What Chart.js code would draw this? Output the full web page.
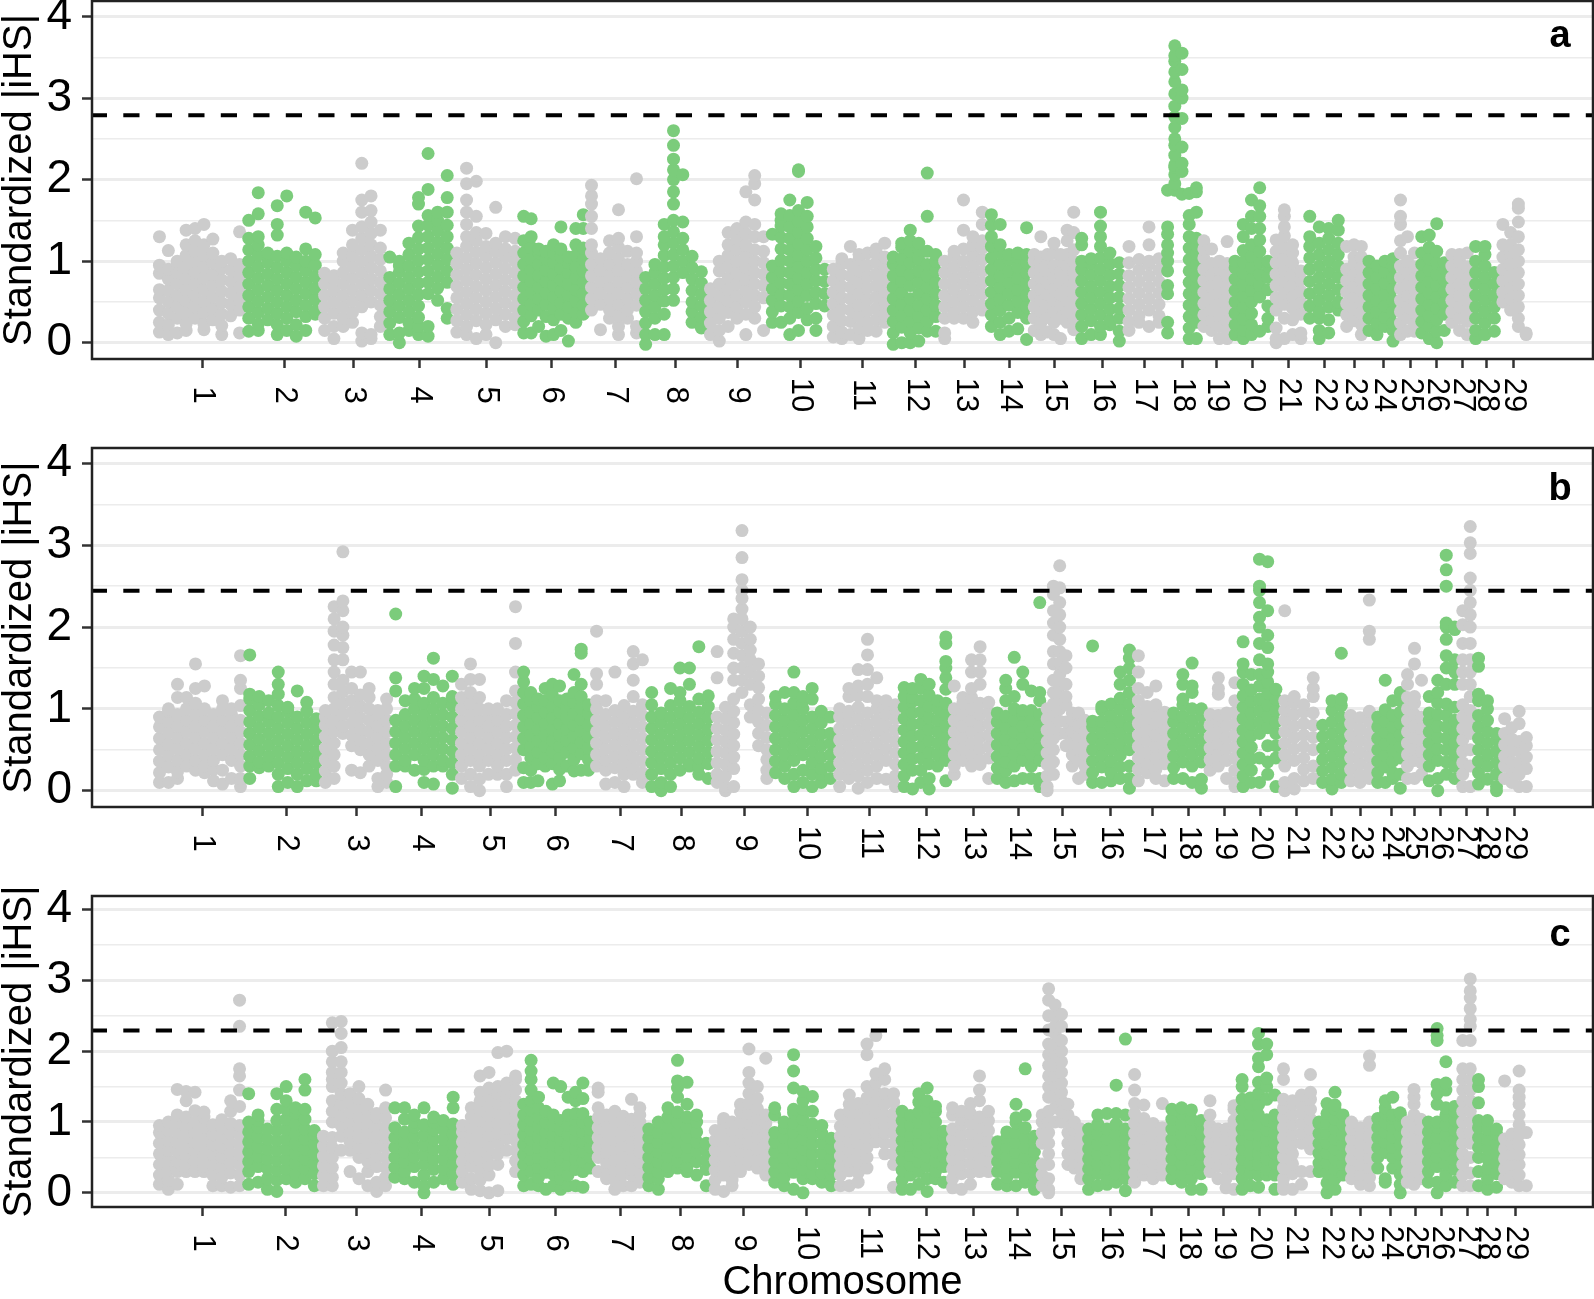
<!DOCTYPE html>
<html>
<head>
<meta charset="utf-8">
<script src="https://cdn.jsdelivr.net/npm/chart.js@4"></script>
<style>
body { margin: 0; background: #fff; }
canvas { position: absolute; left: 0; }
</style>
</head>
<body>
<canvas id="a" width="1594" height="440" style="top:0"></canvas>
<canvas id="b" width="1594" height="440" style="top:440px"></canvas>
<canvas id="c" width="1594" height="419" style="top:880px"></canvas>
<script>
const chromosomes = ["1","2","3","4","5","6","7","8","9","10","11","12","13","14","15","16","17","18","19","20","21","22","23","24","25","26","27","28","29"];
const yTicks = [0,0.5,1,1.5,2,2.5,3,3.5,4];

// chromosome boundaries and tick centres on the cumulative position axis
const edgesA = [5,94,170,235,302,370,437,491,556,618,679,739,790,837,881,927,974,1014,1050,1081,1122,1155,1193,1215,1247,1268,1298,1321,1349,1380];
const edgesB = [5,95,171,241,307,370,442,497,563,621,685,750,800,843,894,938,984,1019,1056,1089,1130,1168,1196,1224,1254,1275,1309,1324,1351,1380];
const edgesC = [5,94,169,240,308,370,444,494,561,620,686,748,798,843,889,934,980,1017,1056,1088,1129,1165,1197,1224,1254,1274,1309,1324,1351,1380];
const ticksA = [52,134,203,269,336,401,465,525,587,650,712,766,815,859,904,952,994,1032,1066,1102,1138,1174,1204,1233,1260,1286,1312,1336,1363];
const ticksB = [52,136,206,271,341,405,470,531,594,657,720,776,823,868,912,960,1002,1038,1074,1110,1146,1181,1210,1241,1264,1290,1316,1337,1364];
const ticksC = [52,135,206,271,339,405,470,530,593,656,719,776,823,867,911,960,1001,1038,1073,1109,1145,1181,1210,1240,1265,1291,1317,1337,1365];

const thresholds = [2.79,2.445,2.29];

// |iHS|: panel > chromosome > column along the chromosome
const panelA = [
[[.13,.25,.4,.55,.65,.85,.95,1.3],[.1,.22,.36,.5,.64,.78,.9,1.13],[.12,.3,.44,.58,.72,.86,.96,1],[.15,.23,.37,.51,.65,.79,.93,1.07,1.2,1.38],[.3,.44,.58,.72,.86,1,1.12,1.25,1.4],[.16,.23,.37,.51,.65,.79,.93,1.07,1.2,1.45],[.28,.42,.56,.7,.84,.98,1.1,1.27],[.1,.21,.35,.49,.63,.77,.91,1],[.33,.47,.61,.75,.89,1.03],[.12,.4,.54,.68,.82,.96,1.36]],
[[.14,.3,.44,.58,.72,.86,1,1.14,1.28,1.5],[.15,.23,.37,.51,.65,.79,.93,1.07,1.2,1.3,1.58,1.84],[.28,.42,.56,.7,.84,.98,1.1],[.1,.22,.36,.5,.64,.78,.92,1.06,1.32,1.45,1.68],[.15,.3,.44,.58,.72,.86,1,1.1,1.8],[.08,.22,.38,.52,.66,.8,.94,1.05],[.15,.32,.46,.6,.74,.88,1,1.15,1.6],[.35,.39,.53,.67,.81,.95,1.08,1.53]],
[[.15,.3,.44,.58,.72,.85],[.05,.2,.36,.5,.64,.78,.82],[.2,.3,.44,.58,.72,.86,1,1.1],[.25,.37,.51,.65,.79,.93,1.07,1.2,1.38],[.02,.12,.44,.58,.72,.86,1,1.14,1.28,1.42,1.6,1.75,2.2],[.05,.1,.5,.64,.78,.92,1.06,1.2,1.34,1.48,1.62,1.8],[.2,.32,.46,.6,.74,.88,1.02,1.16,1.38]],
[[.1,.24,.38,.52,.66,.8,1.05],[0,.12,.31,.45,.59,.73,.87,.94,1],[.15,.24,.38,.52,.66,.8,.94,1.08,1.22],[.1,.2,.31,.45,.59,.73,.87,1.01,1.15,1.29,1.43,1.7,1.78],[.08,.2,.6,.74,.88,1.02,1.16,1.3,1.44,1.56,1.88,2.32],[.52,.67,.81,.95,1.09,1.23,1.37,1.5,1.6],[.3,.42,.74,.88,1.02,1.16,1.3,1.44,1.6,1.78,2.05]],
[[.13,.27,.41,.55,.69,.83,.97,1.1],[.1,.2,.34,.48,.62,.76,.9,1.04,1.18,1.3,1.45,1.6,1.75,1.95,2.14],[.05,.27,.41,.55,.69,.83,.97,1.11,1.25,1.35,1.55,1.98],[.1,.22,.36,.5,.64,.78,.92,1.06,1.18,1.34],[0,.28,.42,.56,.7,.84,.98,1.12,1.22,1.66],[.2,.35,.49,.63,.77,.91,1.05,1.15,1.3],[.22,.3,.44,.58,.72,.86,1,1.12,1.28]],
[[.12,.26,.4,.54,.68,.82,.96,1.1,1.25,1.55],[.12,.33,.47,.61,.75,.89,1.03,1.17,1.3,1.52],[.2,.4,.54,.68,.82,.96,1.1,1.15],[.08,.32,.47,.61,.75,.89,1.03,1.12],[.1,.28,.42,.56,.7,.84,.98,1.1,1.2],[.15,.35,.49,.63,.77,.91,1.05,1.15,1.42],[.02,.3,.44,.58,.72,.86,.98,1.05],[.25,.37,.51,.65,.79,.93,1.07,1.2,1.4],[.35,.46,.6,.74,.88,1.02,1.16,1.4,1.57]],
[[.4,.54,.68,.82,.96,1.1,1.2,1.4,1.55,1.7,1.8,1.93],[.16,.47,.61,.75,.89,1.03],[.3,.4,.54,.68,.82,.96,1.1,1.25],[.1,.2,.33,.47,.61,.75,.89,1.03,1.17,1.28,1.63],[.3,.4,.54,.68,.82,.96,1.12],[.12,.2,.46,.6,.74,.88,1,1.1,1.3,2.01]],
[[-.02,.1,.24,.38,.52,.66,.8],[.1,.3,.44,.58,.72,.86,.96],[.1,.35,.51,.65,.79,.93,1.07,1.2,1.3,1.45],[.52,.66,.8,.94,1.08,1.22,1.36,1.5,1.7,1.85,2,2.12,2.25,2.42,2.6],[.86,1,1.14,1.28,1.48,2.06],[.25,.38,.5,.64,.78,.92,1.06],[.18,.31,.45,.59,.73,.87]],
[[.1,.24,.38,.52,.66],[.02,.15,.3,.44,.58,.72,.88,1],[.2,.37,.51,.65,.79,.93,1.07,1.2,1.35],[.3,.44,.58,.72,.86,1,1.14,1.28,1.4],[.1,.35,.5,.64,.78,.92,1.06,1.2,1.34,1.48,1.85],[.3,.44,.58,.72,.86,1,1.14,1.3,1.45,1.75,1.95,2.05],[.15,.55,.7,.84,.98,1.12,1.3]],
[[.25,.38,.52,.66,.8,.94,1.33],[.25,.45,.59,.73,.87,1.01,1.15,1.29,1.43,1.5,1.58],[.1,.3,.44,.58,.72,.86,1,1.14,1.28,1.42,1.56,1.75],[.15,.37,.51,.65,.79,.93,1.07,1.21,1.35,1.49,1.62,2.1,2.12],[.28,.42,.58,.72,.86,1,1.14,1.28,1.42,1.55,1.72],[.15,.3,.48,.62,.76,.9,1.04,1.18],[.45,.6,.75,.9]],
[[.07,.2,.34,.48,.62,.76,.9],[.05,.13,.27,.41,.55,.69,.83,.97,1.03],[.1,.26,.4,.54,.68,.82,.96,1.18],[.05,.18,.32,.46,.6,.74,.88,1.02,1.08],[.15,.25,.39,.53,.67,.81,.95,1.1],[.14,.28,.42,.56,.7,.84,.98,1.1,1.15],[.25,.35,.49,.63,.77,.91,1.05,1.22]],
[[-.02,.12,.26,.4,.54,.68,.82,.96,1.05],[0,.19,.33,.47,.61,.75,.89,1.03,1.17,1.22],[0,.12,.26,.4,.54,.7,.84,.98,1.12,1.25,1.38],[.02,.18,.32,.46,.6,.74,.88,1.02,1.14,1.22],[.14,.26,.4,.54,.68,.82,.96,1.12,1.55,2.08],[.14,.32,.46,.6,.74,.88,1,1.08]],
[[.05,.12,.3,.44,.58,.72,.86,1],[.3,.37,.51,.65,.79,.93,1.07,1.12],[.3,.44,.58,.72,.86,1,1.15,1.38,1.75],[.25,.38,.52,.66,.8,.94,1.08,1.2,1.3],[.4,.46,.6,.74,.88,1.02,1.16,1.25,1.45,1.6]],
[[.2,.34,.48,.62,.76,.9,1.04,1.18,1.3,1.44,1.57],[.1,.25,.4,.54,.68,.82,.96,1.1,1.2,1.45],[.14,.3,.46,.6,.74,.88,1.02,1.08],[.17,.37,.51,.65,.79,.93,1.05,1.1],[.04,.3,.44,.58,.72,.86,.98,1.08,1.41]],
[[.15,.3,.44,.58,.72,.86,1,1.08],[.1,.24,.38,.52,.66,.8,.94,1.05,1.3],[.13,.31,.45,.59,.73,.87,1.01,1.08],[.1,.25,.38,.52,.66,.8,.94,1.1,1.22],[.05,.3,.45,.59,.73,.87,1,1.08],[.25,.38,.52,.66,.8,.94,1.08,1.25,1.38],[.16,.3,.44,.58,.72,.86,1,1.14,1.35,1.6]],
[[.05,.2,.34,.48,.62,.76,.9,1,1.2,1.28],[.1,.27,.41,.55,.69,.83,.97,1.03],[.1,.2,.34,.48,.62,.76,.9,1.04,1.18,1.3,1.43,1.6],[.22,.27,.41,.55,.69,.83,.97,1.1],[.02,.14,.3,.42,.56,.7,.84,.98]],
[[.15,.26,.4,.54,.68,.82,.98,1.18],[.25,.33,.47,.61,.75,.89,1.02],[.2,.4,.54,.68,.82,.96,1,1.2,1.42],[.25,.33,.47,.61,.75,.89,1.03]],
[[.12,.25,.6,.7,.88,1,1.1,1.2,1.33,1.42,1.87],[1.87,1.95,2.06,2.15,2.18,2.3,2.42,2.5,2.64,2.77,2.9,3.05,3.2,3.32,3.45,3.52,3.64],[1.82,2.1,2.2,2.4,2.75,3,3.1,3.35,3.55],[.05,.18,.32,.46,.6,.74,.88,1.02,1.16,1.3,1.45,1.56,1.83],[.05,.25,.39,.53,.67,.81,.95,1.09,1.2,1.28,1.6,1.85,1.9]],
[[.2,.34,.48,.62,.76,.9,1.04,1.15,1.25],[.15,.27,.41,.55,.69,.83,.97,1.15],[.05,.2,.34,.48,.62,.76,.9,1],[.05,.15,.27,.41,.55,.69,.83,.97,1.24]],
[[.1,.22,.36,.5,.64,.78,.92,1],[.05,.15,.29,.43,.57,.71,.85,.99,1.13,1.3,1.45],[.1,.22,.36,.5,.64,.78,.92,1.06,1.2,1.4,1.55,1.75],[.14,.56,.7,.84,.98,1.12,1.26,1.4,1.55,1.68,1.9],[.2,.3,.45,.65,.8,.94,1]],
[[0,.05,.18,.4,.55,.7,.84,.98,1.12,1.26],[.05,.3,.47,.61,.75,.89,1.03,1.17,1.31,1.42,1.55,1.63],[.1,.28,.42,.56,.7,.84,.98,1.1,1.2],[.05,.12,.35,.49,.63,.77,.88]],
[[.3,.45,.6,.75,.9,1.04,1.18,1.3,1.55],[.05,.15,.3,.38,.52,.66,.8,.94,1.08,1.22,1.42],[.12,.28,.44,.58,.72,.86,1,1.14,1.28,1.4],[.4,.5,.65,.8,.94,1.08,1.22,1.38,1.5]],
[[.2,.34,.48,.62,.76,.9,1.18],[.27,.41,.55,.69,.83,.97,1.05,1.2],[.1,.22,.36,.5,.64,.78,.92,1.05,1.18]],
[[.15,.3,.44,.58,.72,.86,1],[.1,.24,.38,.52,.66,.8,.94],[.2,.31,.45,.59,.73,.87,1],[.02,.15,.24,.38,.52,.66,.8,.94,1.03]],
[[.1,.24,.38,.52,.66,.8,.94,1.1,1.25,1.45,1.55,1.75],[.14,.3,.44,.58,.72,.86,1,1.3],[.14,.23,.37,.51,.65,.79,.93,1.1]],
[[.12,.26,.4,.54,.68,.82,.96,1.1,1.3],[.05,.2,.33,.47,.61,.75,.89,1.03,1.17,1.32],[0,.14,.28,.42,.56,.7,.84,.98,1.12,1.46],[.15,.35,.49,.63,.77,.91,.98]],
[[.25,.38,.52,.66,.8,.94,1.08],[.15,.3,.44,.58,.72,.86,1,1.08],[.1,.26,.37,.51,.65,.79,.93,1.1]],
[[.05,.15,.3,.44,.58,.72,.86,1,1.18],[.1,.24,.38,.52,.66,.8,.94,1.08,1.18],[.14,.3,.44,.58,.72,.86]],
[[.5,.62,.76,.9,1.05,1.2,1.45],[.4,.54,.68,.82,.96,1.1,1.2,1.35],[.2,.3,.44,.58,.72,.86,1,1.14,1.3,1.48,1.65,1.7],[.1,.12]]
];

const panelB = [
[[.1,.22,.36,.5,.64,.78,.9],[.1,.29,.43,.57,.71,.85,.97,1],[.15,.23,.37,.51,.65,.79,.93,1.14,1.3],[.3,.44,.58,.72,.86,1,1.14],[.25,.37,.51,.65,.79,.93,1.07,1.25,1.55],[.22,.3,.44,.58,.72,.86,1,1.28],[.12,.26,.37,.51,.65,.79,.93],[.08,.25,.44,.58,.72,.86,1,1.1],[.15,.37,.51,.65,.79,.93,1],[.05,.15,.3,.44,.58,.72,.86,1.04,1.25,1.35,1.65]],
[[.15,.3,.42,.56,.7,.84,.98,1.12,1.18,1.66],[.28,.35,.49,.63,.77,.91,1.05,1.15],[.3,.42,.56,.7,.84,.95,1.1],[.05,.2,.34,.48,.62,.76,.9,1.04,1.18,1.3,1.45],[.1,.27,.41,.55,.69,.83,.97,1.02],[.05,.2,.34,.48,.62,.76,.9,1.22],[.12,.27,.41,.55,.69,.83,.97,1.08],[.12,.2,.34,.48,.62,.76,.88]],
[[.1,.24,.38,.52,.66,.8,.9,.98],[.15,.3,.44,.58,.72,.86,1,1.14,1.3,1.45,1.6,1.78,1.95,2.1,2.25],[.7,.79,.93,1.07,1.21,1.35,1.6,1.75,1.9,2,2.2,2.32,2.92],[.25,.55,.68,.82,.96,1.1,1.25,1.45],[.22,.5,.62,.75,.89,1.03,1.17,1.45],[.3,.44,.58,.72,.86,1,1.14,1.25],[.05,.15,.37,.51,.65,.79,.93,.98],[.1,.2,.3,.44,.58,.72,.86,1,1.12]],
[[.05,.3,.44,.58,.72,.86,1.22,1.38,2.16],[.3,.37,.51,.65,.79,.93,1.1],[.25,.44,.58,.72,.86,1,1.12,1.25],[.1,.26,.37,.51,.65,.79,.93,1.07,1.25,1.4],[.08,.3,.44,.58,.72,.86,1,1.14,1.36,1.62],[.3,.37,.51,.65,.79,.93,1.07,1.28],[.03,.2,.34,.48,.62,.76,.9,1.04,1.15,1.4]],
[[.15,.3,.44,.58,.72,.86,1,1.14,1.3],[.05,.2,.37,.51,.65,.79,.93,1.07,1.2,1.36,1.55],[0,.14,.3,.44,.58,.72,.86,1,1.14,1.36],[.2,.37,.51,.65,.79,.93,1],[.2,.3,.44,.58,.72,.86,1],[.05,.2,.37,.51,.65,.79,.93,1.1],[.25,.38,.52,.66,.8,.94,1.08,1.22,1.45,1.8,2.25]],
[[.1,.28,.5,.64,.78,.92,1.06,1.2,1.33,1.45],[.1,.25,.4,.54,.68,.82,.96,1.1,1.2],[.12,.33,.47,.61,.75,.89,1.03,1.12],[.3,.4,.54,.68,.82,.96,1.1,1.25],[.08,.33,.47,.61,.75,.89,1.03,1.17,1.3],[.12,.26,.4,.54,.68,.82,.96,1.1,1.28],[.3,.47,.61,.75,.89,1.03,1.12],[.24,.38,.52,.66,.8,.94,1.08,1.2,1.42],[.25,.45,.59,.73,.87,1.01,1.15,1.3,1.68,1.73],[.25,.38,.52,.66,.8,.94,1.05]],
[[.3,.44,.58,.72,.86,1,1.1,1.3,1.43,1.95],[.08,.25,.37,.51,.65,.79,.93,1.1],[.1,.28,.42,.56,.7,.84,.98,1.45],[.05,.2,.34,.48,.62,.76,.9,1.04],[.2,.27,.41,.55,.69,.83,.97,1.15,1.35,1.55,1.7],[.1,.22,.36,.5,.64,.78,.92,1.05,1.6]],
[[.05,.2,.34,.48,.62,.76,.9,1.05,1.2],[0,.1,.27,.41,.55,.69,.83,.95],[.05,.2,.34,.48,.62,.76,.9,1.04,1.25],[.25,.4,.54,.68,.82,.96,1.1,1.2,1.5],[.3,.33,.47,.61,.75,.89,1.03,1.3,1.5],[.2,.3,.4,.54,.68,.82,.96,1.12,1.76],[.15,.33,.47,.61,.75,.89,1.03,1.16]],
[[.1,.2,.34,.48,.62,.76,.9,1.38,1.7],[0,.05,.18,.32,.46,.6,.74,.88,1.02],[.05,.27,.41,.55,.69,.83,.97,1.12,1.35,1.5,1.68,1.85,2,2.1],[1.2,1.35,1.5,1.65,1.8,1.95,2.1,2.22,2.35,2.45,2.58,2.85,3.18],[.9,1.05,1.3,1.45,1.6,1.72,1.85,2],[.55,.7,.84,.98,1.12,1.26,1.4,1.55],[.15,.25,.38,.5,.65,.8,.95]],
[[.22,.36,.5,.64,.78,.92,1.06,1.15],[.15,.3,.44,.58,.72,.86,1,1.2],[.05,.2,.37,.51,.65,.79,.93,1.07,1.2,1.45],[.1,.25,.44,.58,.72,.86,1,1.1,1.15],[.05,.2,.34,.48,.62,.76,.9,1.12,1.25],[.1,.2,.27,.41,.55,.69,.83,.97],[.15,.3,.44,.58,.7,.9]],
[[.05,.2,.34,.48,.62,.76,.9,1],[.15,.27,.41,.55,.69,.83,.97,1.15,1.25],[.03,.18,.32,.46,.6,.74,.88,1.02,1.16,1.28,1.48],[.1,.25,.39,.53,.67,.81,.95,1.15,1.3,1.48,1.66,1.85],[.15,.3,.44,.58,.72,.86,1,1.1,1.38],[.14,.37,.51,.65,.79,.93,1.07,1.1],[.05,.18,.32,.46,.6,.74,.88,1,1.05]],
[[.05,.18,.32,.46,.6,.74,.88,1.02,1.15,1.26],[.02,.25,.39,.53,.67,.81,.95,1.09,1.14,1.25],[.1,.25,.4,.54,.68,.82,.96,1.1,1.25,1.36],[.02,.15,.33,.47,.61,.75,.89,1.03,1.17,1.3],[.3,.44,.58,.72,.86,1,1.1],[.12,.37,.51,.65,.79,.93,1.07,1.24,1.38,1.5,1.58,1.8,1.88]],
[[.2,.3,.44,.58,.72,.86,1,1.28],[.37,.51,.65,.79,.93,1.07,1.14],[.3,.44,.58,.72,.86,1,1.14,1.25,1.45,1.6],[.32,.37,.51,.65,.79,.93,1.07,1.3,1.45,1.6,1.76],[.15,.4,.54,.68,.82,.96,1.08]],
[[.15,.28,.42,.56,.7,.84,.95],[.1,.24,.35,.49,.63,.77,.91,1.1,1.25,1.35],[.12,.3,.44,.58,.72,.86,1,1.15,1.63],[.15,.37,.51,.65,.79,.93,.98,1.3,1.45],[.15,.3,.44,.58,.72,.86,.98,1.22],[.05,.15,.37,.51,.65,.79,.93,1.1,1.2,2.3]],
[[0,.05,.18,.32,.46,.6,.74,.88,1],[.2,.35,.5,.64,.78,.92,1.06,1.2,1.35,1.55,1.7,1.9,2.05,2.2,2.4,2.5],[.7,.85,1,1.14,1.28,1.42,1.56,1.7,1.85,2,2.15,2.3,2.48,2.75],[.55,.7,.84,1.05,1.15,1.3,1.5,1.65],[.3,.44,.58,.72,.86,.95],[.15,.37,.51,.65,.79,.93,.95],[.2,.3,.44,.58,.72,.86]],
[[.1,.22,.36,.5,.64,.78,.85,1.77],[.1,.29,.43,.57,.71,.85,.99,1.03],[.12,.22,.36,.5,.64,.78,.92,1.06],[.15,.29,.43,.57,.71,.85,.99,1.13,1.3,1.45],[.03,.15,.3,.5,.64,.78,.92,1.06,1.2,1.35,1.5,1.62,1.72]],
[[.12,.26,.4,.54,.68,.82,.96,1.1,1.25,1.45,1.65],[.22,.33,.47,.61,.75,.89,1.03,1.2],[.15,.26,.4,.54,.68,.82,.96,1.05,1.28],[.12,.33,.47,.61,.75,.89,.96]],
[[.15,.28,.42,.56,.7,.84,.95],[.15,.35,.49,.63,.77,.91,1.05,1.12,1.3,1.42],[.1,.3,.44,.58,.72,.86,1,1.2,1.28,1.56],[.03,.14,.35,.49,.63,.77,.91,1]],
[[.25,.38,.52,.66,.8,.93],[.3,.44,.58,.72,.86,.92,1.18,1.25,1.38],[.15,.37,.51,.65,.79,.93,.95],[.05,.1,.25,.4,.54,.68,.82,.96,1.1,1.32]],
[[.05,.18,.32,.46,.6,.74,.88,1.02,1.16,1.3,1.45,1.55,1.82],[.1,.25,.39,.53,.67,.81,.95,1.09,1.23,1.42],[.1,.4,.7,.84,.98,1.12,1.28,1.42,1.6,1.8,2,2.12,2.3,2.45,2.5,2.83],[.2,.35,.55,.77,.91,1.05,1.19,1.33,1.45,1.55,1.75,1.9,2.2,2.8],[.05,.4,.55,.7,.84,.98,1.12,1.24]],
[[0,.1,.3,.44,.58,.72,.86,.98,1.1,2.2],[.02,.15,.37,.51,.65,.79,.93,1.07,1.15],[.12,.26,.4,.54,.68,.82,.96,1.05],[.15,.3,.5,.65,.8,.95,1.15,1.25,1.38]],
[[.1,.24,.38,.52,.66,.8],[.02,.14,.28,.42,.56,.7,.84,.98,1.1],[.1,.2,.34,.48,.62,.76,.9,1.04,1.12,1.68]],
[[.12,.26,.4,.54,.68,.82,.92],[.1,.19,.33,.47,.61,.75,.89],[.15,.28,.42,.56,.7,.84,.97,1.85,1.95,2.33]],
[[.1,.22,.36,.5,.64,.78,.9],[.1,.29,.43,.57,.71,.85,.99,1.35],[.15,.22,.36,.5,.64,.78,.92,1.1],[.03,.2,.4,.54,.68,.82,.96,1.1,1.2]],
[[.15,.3,.44,.58,.72,.86,1,1.14,1.3,1.42],[.15,.37,.51,.65,.79,.93,1.07,1.15,1.55,1.74],[.2,.34,.48,.62,.76,.9,1.35]],
[[.12,.3,.44,.58,.72,.86,.95,1.15],[0,.15,.37,.51,.65,.79,.93,1.07,1.2,1.35],[.2,.35,.5,.64,.78,.92,1.06,1.3,1.5,1.65,1.85,2,2.05,2.5,2.7,2.88],[.15,.3,.44,.58,.72,.86,1.02,1.3,1.45,1.6,1.97,2]],
[[.05,.2,.34,.48,.62,.76,.9,1.05,1.3,1.45,1.6,1.8,2.03,2.2],[.05,.3,.5,.7,.84,.98,1.15,1.3,1.45,1.6,1.8,2,2.15,2.3,2.45,2.6,2.9,3.03,3.23]],
[[.08,.22,.36,.5,.64,.78,.92,1.1,1.18,1.52,1.62],[.14,.3,.44,.58,.72,.86,1,1.1],[0,.05,.2,.34,.48,.62,.7]],
[[.15,.3,.42,.56,.7,.88],[.1,.24,.35,.49,.63,.77],[.05,.2,.34,.48,.6,.82,.97],[.05,.27,.41,.55,.65]]
];

const panelC = [
[[.12,.25,.4,.55,.7,.85,.95],[.05,.18,.32,.46,.6,.74,.88,1],[.12,.3,.44,.58,.72,.86,1,1.1,1.46],[.3,.37,.51,.65,.79,.93,1.07,1.3,1.43],[.3,.44,.58,.72,.86,1,1.16,1.42],[.3,.37,.51,.65,.79,.93,1.07,1.14],[.1,.25,.4,.54,.68,.82,.96],[.1,.22,.36,.5,.64,.78,.92,1.03],[.08,.28,.42,.56,.7,.84,.98,1.15,1.3],[.1,.25,.4,.54,.68,.82,.95,1.22,1.45,1.65,1.75,2.35,2.72]],
[[.12,.3,.44,.58,.72,.86,1,1.4],[.15,.37,.51,.65,.79,.93,1.02,1.1],[.05,.2,.34,.48,.62,.76,.9],[.02,.18,.32,.46,.6,.74,.88,1.02,1.18,1.4],[.2,.34,.48,.62,.76,.9,1.04,1.18,1.3,1.5],[.15,.27,.41,.55,.69,.83,.97,1.12,1.2],[.2,.34,.48,.62,.76,.9,1.04,1.18,1.45,1.6],[.1,.27,.41,.55,.69,.83,.88]],
[[.1,.24,.38,.52,.66,.8],[.1,.22,.36,.5,.64,.78,1,1.15,1.3,1.5,1.6,1.7,1.85,2,2.4],[.6,.8,.95,1.1,1.25,1.4,1.55,1.7,1.85,2.05,2.25,2.42],[.3,.6,.72,.86,1,1.14,1.28,1.4],[.2,.5,.64,.78,.92,1.06,1.2,1.33,1.5],[.1,.3,.44,.58,.72,.86,1,1.14,1.25],[.02,.15,.37,.51,.65,.79,.93,1.07,1.12],[.1,.22,.36,.5,.64,.78,.92,1.06,1.2,1.45]],
[[.22,.36,.5,.64,.78,.92,1.2],[.2,.3,.44,.58,.72,.86,1.04,1.2],[.15,.37,.51,.65,.79,.93,1,1.1],[0,.1,.25,.4,.54,.68,.82,.96,1.2],[.15,.33,.47,.61,.75,.89,1,1.07],[.2,.34,.48,.62,.76,.9,1.02],[.12,.27,.41,.55,.69,.83,.97,1.2,1.35]],
[[.15,.3,.44,.58,.72,.86,.95],[.05,.2,.37,.51,.65,.79,.93,1.07,1.2],[.03,.18,.32,.46,.6,.74,.88,1.02,1.16,1.3,1.42,1.65],[0,.25,.39,.53,.67,.81,.95,1.09,1.23,1.37,1.48,1.7],[.03,.4,.55,.7,.84,.98,1.12,1.26,1.4,1.5,1.98],[.6,.77,.91,1.05,1.19,1.33,1.47,1.55,2],[.3,.45,.6,.74,.88,1.02,1.16,1.3,1.45,1.6,1.65]],
[[.1,.25,.4,.54,.68,.82,.96,1.1,1.25],[.12,.3,.47,.61,.75,.89,1.03,1.17,1.3,1.45,1.6,1.72,1.87],[.1,.22,.36,.5,.64,.78,.92,1.06,1.2,1.35],[.05,.29,.43,.57,.71,.85,.99,1.13,1.15],[.1,.26,.4,.54,.68,.82,.96,1.1,1.55],[.05,.2,.33,.47,.61,.75,.89,1.02,1.5],[.1,.25,.4,.54,.68,.82,.96,1.1,1.35],[.1,.33,.47,.61,.75,.89,1.03,1.12,1.3,1.42],[.08,.3,.44,.58,.72,.86,1,1.12,1.33,1.55],[.35,.5,.64,.78,.9,1]],
[[.3,.5,.64,.78,.92,1.06,1.2,1.42,1.48],[.2,.34,.43,.57,.71,.85,.99,1.1],[.05,.18,.32,.46,.6,.74,.88,1.02,1.15],[.1,.26,.4,.54,.68,.82,.96,1.08],[.1,.25,.33,.47,.61,.75,.89,1.04,1.32],[.15,.3,.44,.58,.72,.86,1,1.1,1.2]],
[[.1,.22,.36,.5,.64,.78,.9],[.05,.2,.29,.43,.57,.71,.85,1],[.3,.37,.51,.65,.79,.93,1.07,1.2],[.35,.44,.58,.72,.86,1,1.14,1.35,1.48,1.58,1.87],[.3,.37,.51,.65,.79,.93,1.07,1.25,1.56],[.25,.44,.58,.72,.86,1,1.1],[.1,.33,.47,.61,.7]],
[[.05,.18,.32,.46,.6,.74,.88],[.02,.25,.39,.53,.67,.81,.95,1,1.05],[.1,.18,.32,.46,.6,.74,.88,1],[.3,.44,.58,.72,.86,1,1.14,1.25],[.4,.55,.7,.84,.98,1.12,1.26,1.4,1.55,1.7,2.03],[.35,.47,.62,.77,.91,1.05,1.19,1.33,1.5],[.25,.4,.55,.7,.84,.98,1.1,1.9]],
[[.15,.3,.44,.58,.72,.85,1.1,1.2],[.1,.22,.36,.5,.64,.78,.92,1],[.05,.29,.43,.57,.71,.85,.99,1.13,1.18,1.48,1.72,1.95],[0,.2,.34,.48,.62,.76,.9,1.04,1.18,1.3,1.43],[.2,.27,.41,.55,.69,.83,.97,1.15,1.36],[.15,.28,.42,.56,.7,.84,.95],[.1,.25,.35,.49,.63,.77]],
[[.1,.25,.38,.52,.66,.8,.94,1.1],[.1,.31,.45,.59,.73,.87,1.01,1.15,1.25,1.38],[.15,.28,.42,.56,.7,.84,.98,1.12,1.26],[.35,.5,.64,.78,.92,1.06,1.2,1.34,1.5,1.95,2.1],[.72,.86,1,1.14,1.28,1.42,1.55,1.68,2.22],[.55,.7,.84,.95,1.1,1.25,1.4,1.6,1.75],[.08,.4,.55,.7,.85,1,1.12,1.28,1.4]],
[[.05,.18,.32,.46,.6,.74,.88,1.02,1.15],[.05,.25,.39,.53,.67,.81,.95,1.09],[.12,.3,.44,.58,.72,.86,1,1.14,1.28,1.4],[.02,.2,.37,.51,.65,.79,.93,1.07,1.21,1.3,1.48],[.2,.3,.44,.58,.72,.86,1,1.15,1.22],[.15,.37,.51,.65,.79,.87]],
[[.07,.2,.34,.48,.62,.76,.9,1.1,1.2],[.05,.27,.41,.55,.69,.83,.97,1.04,1.15],[.12,.28,.42,.56,.7,.84,.98,1.12,1.26],[.3,.37,.51,.65,.79,.93,1.07,1.3,1.45,1.65],[.3,.45,.6,.74,.88,1.02,1.15]],
[[.12,.3,.44,.58,.72],[.1,.22,.36,.5,.64,.78,.86],[.1,.29,.43,.57,.71,.85,.99,1.06,1.25],[.15,.22,.36,.5,.64,.78,.92,1.1,1.75],[.05,.15,.3,.44,.58,.72,.8]],
[[.1,.25,.4,.7,.85,1,1.1],[0,.05,.2,.4,.55,.7,.85,1,1.15,1.35,1.5,1.65,1.8,1.95,2.1,2.3,2.5,2.72,2.88],[1,1.2,1.35,1.5,1.65,1.8,1.95,2.1,2.25,2.35,2.5,2.65],[1,1.14,1.3,1.42,1.55,1.7,1.85,2,2.15,2.35,2.52],[.4,.55,.7,.85,1,1.1,1.25],[.35,.47,.61,.75,.89,1],[.2,.35,.5,.64,.78,.9]],
[[.05,.2,.34,.48,.62,.76,.9],[.1,.27,.41,.55,.69,.83,.97,1.1],[.12,.2,.34,.48,.62,.76,.9,1.12],[.15,.27,.41,.55,.69,.83,.97,1.12,1.52],[.03,.2,.34,.48,.62,.76,.9,1.1,2.17]],
[[.15,.28,.42,.56,.7,.84,.98,1.12,1.26,1.45,1.67],[.25,.35,.49,.63,.77,.91,1.05,1.24],[.2,.28,.42,.56,.7,.84,.98],[.25,.35,.49,.63,.77,.92,1.26]],
[[.2,.34,.48,.62,.76,.9,1.04,1.18],[.15,.27,.41,.55,.69,.83,.97,1.12,1.2],[.05,.2,.34,.48,.62,.76,.9,1.04,1.17],[.05,.27,.41,.55,.69,.83,.97,1.02]],
[[.3,.44,.58,.72,.86,.95,1.1,1.3],[.2,.37,.51,.65,.79,.9],[.07,.2,.34,.48,.62,.76,.9],[.05,.27,.41,.55,.69,.83,.97,1.02,1.18,1.23]],
[[.05,.2,.34,.48,.62,.76,.9,1.04,1.18,1.32,1.5,1.6],[.1,.27,.41,.55,.69,.83,.97,1.11,1.25,1.34],[.08,.25,.4,.54,.68,.82,.96,1.1,1.24,1.4,1.56,1.78,1.9,2.1,2.25],[.25,.33,.47,.61,.75,.89,1.03,1.32,1.5,1.62,1.95,2.1],[.05,.25,.42,.56,.7,.84,.98,1.1,1.38]],
[[.05,.1,.2,.35,.5,.64,.78,.92,1.06,1.2,1.32,1.6,1.75],[.05,.27,.41,.55,.69,.83,.97,1.11,1.25,1.3],[.12,.3,.7,.84,.98,1.12,1.26,1.38],[.3,.62,.76,.9,1.04,1.18,1.32,1.42,1.67]],
[[.3,.42,.56,.7,.84,.98,1],[0,.14,.28,.42,.56,.7,.84,.98,1.12,1.26],[.05,.2,.34,.48,.62,.76,.9,1.04,1.18,1.24,1.42],[.25,.4,.54,.68,.82,.96,1.1]],
[[.2,.34,.48,.62,.76,.9,1],[.12,.26,.4,.54,.68,.82,.92],[.1,.22,.36,.5,.64,.78,.92,1,1.8,1.93]],
[[.35,.5,.64,.78,.92,1.05],[.15,.2,.57,.71,.85,.99,1.13,1.2,1.3],[.35,.5,.64,.78,.92,1.05,1.1,1.35],[0,.12,.26,.4,.54,.68,.82,.96,1.1,1.13]],
[[.15,.3,.44,.58,.72,.86,1],[.12,.26,.37,.51,.65,.79,.93,1.1,1.25,1.35,1.46],[.2,.34,.48,.62,.76,.9,1.04]],
[[.15,.3,.44,.58,.72,.86,1],[0,.15,.37,.51,.65,.79,.93,1,1.25,1.4,1.53,2.15,2.22,2.32],[.1,.25,.4,.54,.68,.82,.96,1.1,1.2,1.45,1.55,1.85],[.15,.33,.47,.61,.75,.89,1.03,1.15,1.22]],
[[.1,.25,.4,.55,.7,.85,1,1.15,1.3,1.45,1.6,1.75,2.15],[.1,.28,.5,.7,.85,1,1.15,1.3,1.45,1.6,1.75,2.15,2.35,2.45,2.6,2.75,2.85,3.02]],
[[.1,.3,.5,.64,.78,.92,1.02,1.27,1.5,1.6],[.05,.2,.34,.48,.62,.76,.9,1.02],[.08,.27,.41,.55,.69,.83,.9]],
[[.2,.34,.48,.62,.76,1.58],[.15,.27,.41,.55,.69,.83],[.1,.25,.4,.54,.68,.82,.96,1.1,1.25,1.35,1.45,1.72],[.1,.85]]
];

const GREY = "#CCCCCC";
const GREEN = "#7BCC7B";
const FONT = "'Liberation Sans', Arial, sans-serif";
const X_MIN = -58, X_MAX = 1443;

// one scatter dataset per chromosome, columns spread evenly along its span
function chromDatasets(panel, edges) {
  return panel.map((cols, i) => {
    const w = (edges[i + 1] - edges[i]) / cols.length;
    return {
      label: "Chr " + chromosomes[i],
      data: cols.flatMap((ys, j) => ys.map(y => ({ x: edges[i] + (j + 0.5) * w, y: y }))),
      backgroundColor: i % 2 ? GREEN : GREY,
      borderWidth: 0,
      pointRadius: 6.5,
      order: 30 - i
    };
  });
}

const panelDecor = {
  id: "panelDecor",
  afterDraw(chart, args, opts) {
    const ctx = chart.ctx, area = chart.chartArea, xs = chart.scales.x;
    ctx.save();
    ctx.strokeStyle = "#222";
    ctx.lineWidth = 2.5;
    ctx.strokeRect(area.left, area.top, area.right - area.left, area.bottom - area.top);
    // ggplot style labels read top to bottom, chart.js can't rotate them this way
    ctx.fillStyle = "#000";
    ctx.font = "31px " + FONT;
    ctx.textAlign = "center";
    ctx.textBaseline = "middle";
    opts.ticks.forEach((t, i) => {
      ctx.save();
      ctx.translate(xs.getPixelForValue(t) + 1, area.bottom + 36);
      ctx.rotate(Math.PI / 2);
      ctx.fillText(chromosomes[i], 0, 0);
      ctx.restore();
    });
    ctx.font = "bold 38px " + FONT;
    ctx.textBaseline = "alphabetic";
    ctx.fillText(opts.letter, xs.getPixelForValue(1410), chart.scales.y.getPixelForValue(opts.letterY));
    ctx.restore();
  }
};

function drawPanel(id, panel, edges, ticks, threshold, box, letterY, showTitle) {
  new Chart(document.getElementById(id), {
    type: "scatter",
    plugins: [panelDecor],
    data: {
      datasets: chromDatasets(panel, edges).concat([{
        type: "line",
        label: "Threshold",
        data: [{ x: X_MIN, y: threshold }, { x: X_MAX, y: threshold }],
        borderColor: "#000",
        borderWidth: 4,
        borderDash: [16.2, 16.3],
        borderDashOffset: 1.2,
        pointRadius: 0,
        order: 0
      }])
    },
    options: {
      responsive: false,
      animation: false,
      events: [],
      layout: { autoPadding: false, padding: { top: box.top, right: 1, left: 0, bottom: 0 } },
      plugins: {
        legend: { display: false },
        tooltip: { enabled: false },
        panelDecor: { ticks: ticks, letter: id, letterY: letterY }
      },
      scales: {
        x: {
          type: "linear",
          min: X_MIN,
          max: X_MAX,
          afterBuildTicks(s) { s.ticks = ticks.map(v => ({ value: v })); },
          afterFit(s) { s.height = box.axis; s.paddingLeft = 0; s.paddingRight = 0; },
          ticks: { display: false },
          grid: { drawOnChartArea: false, tickLength: 9, tickColor: "#333", tickWidth: 2.5 },
          border: { display: false },
          title: {
            display: showTitle,
            text: "Chromosome",
            color: "#000",
            padding: 0,
            font: { family: FONT, size: 40, lineHeight: 0.8 }
          }
        },
        y: {
          min: -0.2,
          max: 4.19,
          afterBuildTicks(s) { s.ticks = yTicks.map(v => ({ value: v })); },
          afterFit(s) { s.width = 92; s.paddingTop = 0; s.paddingBottom = 0; },
          ticks: {
            color: "#000",
            padding: 10,
            font: { family: FONT, size: 46 },
            autoSkip: false,
            callback: v => Number.isInteger(v) ? String(v) : ""
          },
          grid: {
            tickLength: 10,
            color: "#ECECEC",
            lineWidth: c => Number.isInteger(c.tick.value) ? 3 : 1.5,
            tickColor: c => Number.isInteger(c.tick.value) ? "#333" : "rgba(0,0,0,0)",
            tickWidth: 2.5
          },
          border: { display: false },
          title: {
            display: true,
            text: "Standardized |iHS|",
            color: "#000",
            padding: 0,
            font: { family: FONT, size: 40, lineHeight: 1 }
          }
        }
      }
    }
  });
}

drawPanel("a", panelA, edgesA, ticksA, thresholds[0], { top: 1, axis: 81 }, 3.63, false);
drawPanel("b", panelB, edgesB, ticksB, thresholds[1], { top: 8, axis: 73 }, 3.55, false);
drawPanel("c", panelC, edgesC, ticksC, thresholds[2], { top: 16, axis: 92 }, 3.48, true);
</script>
</body>
</html>
